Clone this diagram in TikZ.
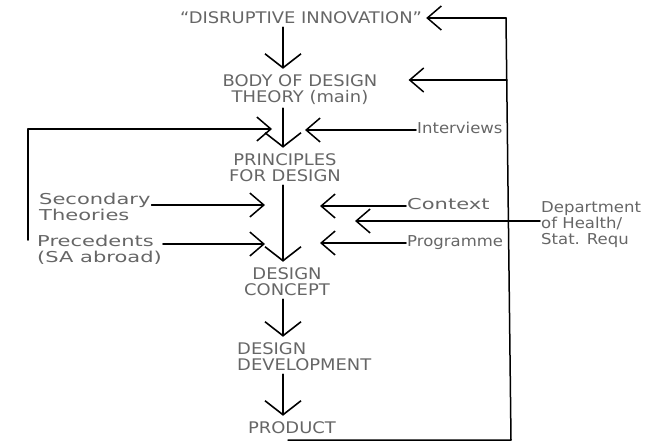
\documentclass[tikz,border=0pt]{standalone}
\usepackage{fontspec}
\usetikzlibrary{arrows.meta}
\newfontfamily\capsfont[FakeStretch=1.12]{DejaVu Sans}
\newfontfamily\handfont[FakeStretch=1.4]{DejaVu Sans}
\newfontfamily\handnarrow[FakeStretch=1.1]{DejaVu Sans}
\definecolor{pencil}{HTML}{666666}
\begin{document}
\begin{tikzpicture}[x=1pt,y=-1pt,line cap=round,line join=round,
  caps/.style={text=pencil,font=\capsfont\fontsize{16}{16}\selectfont,inner sep=1pt,align=center},
  hand/.style={text=pencil,font=\handfont\fontsize{15}{16}\selectfont,inner sep=1pt,align=left},
  narrow/.style={font=\handnarrow\fontsize{15}{16}\selectfont},
  flow/.style={line width=1.6pt,-{Straight Barb[length=14pt,width=36pt]},shorten >=5pt,shorten <=2pt},
  feed/.style={line width=1.5pt,-{Straight Barb[length=14pt,width=24pt]}}]
\useasboundingbox (0,0) rectangle (661,442);
\clip (0,0) rectangle (661,442);
% main column
\node[caps] (disr) at (301,18) {“DISRUPTIVE INNOVATION”};
\node[caps] (body) at (300,90) {BODY OF DESIGN\\THEORY (main)};
\node[caps] (princ) at (285,168) {PRINCIPLES\\FOR DESIGN};
\node[caps] (concept) at (287,282) {DESIGN\\CONCEPT};
\node[caps,align=left,anchor=west] (devel) at (236,357) {DESIGN\\DEVELOPMENT};
\node[caps] (product) at (292,428) {PRODUCT};
\coordinate (spine) at (283,0);
\draw[flow] (disr.south -| spine) -- (body.north -| spine);
\draw[flow] (body.south -| spine) -- (princ.north -| spine);
\draw[flow] (princ.south -| spine) -- (concept.north -| spine);
\draw[flow] (concept.south -| spine) -- (devel.north -| spine);
\draw[flow] (devel.south -| spine) -- (product.north -| spine);
% inputs
\node[hand,narrow,anchor=west] (interv) at (416,128) {Interviews};
\node[hand,anchor=north west] (second) at (38,192) {Secondary\\Theories};
\node[hand,anchor=north west] (preced) at (36,234) {Precedents\\(SA abroad)};
\node[hand,anchor=west] (context) at (406,204) {Context};
\node[hand,narrow,anchor=west] (programme) at (406,243) {Programme};
\node[hand,narrow,anchor=north west] (dept) at (540,200) {Department\\of Health/\\Stat. Requ};
\coordinate (tInt) at (305,130);
\coordinate (tSec) at (265,205);
\coordinate (tPre) at (265,244);
\coordinate (tCon) at (320,206);
\coordinate (tDep) at (355,221);
\coordinate (tPro) at (320,243);
\draw[feed] (interv.west |- tInt) -- (tInt);
\draw[feed] (second.east |- tSec) -- (tSec);
\draw[feed] (preced.east |- tPre) -- (tPre);
\draw[feed] (context.west |- tCon) -- (tCon);
\draw[feed] (dept.west |- tDep) -- (tDep);
\draw[feed] (programme.west |- tPro) -- (tPro);
% feedback loops
\coordinate (lBot) at (28,240);
\coordinate (lTop) at (28,129);
\coordinate (tLeft) at (272,129);
\draw[feed] (lBot) -- (lTop) -- (tLeft);
\coordinate (jTop) at (506,18);
\coordinate (jBody) at (507,80);
\coordinate (jBot) at (511,440);
\coordinate (jEnd) at (288,440);
\draw[line width=1.5pt] (jEnd) -- (jBot) -- (jTop);
\draw[feed,shorten >=3pt] (jTop) -- (disr.east);
\draw[feed,shorten >=30pt] (jBody) -- (jBody -| body.east);
\end{tikzpicture}
\end{document}
